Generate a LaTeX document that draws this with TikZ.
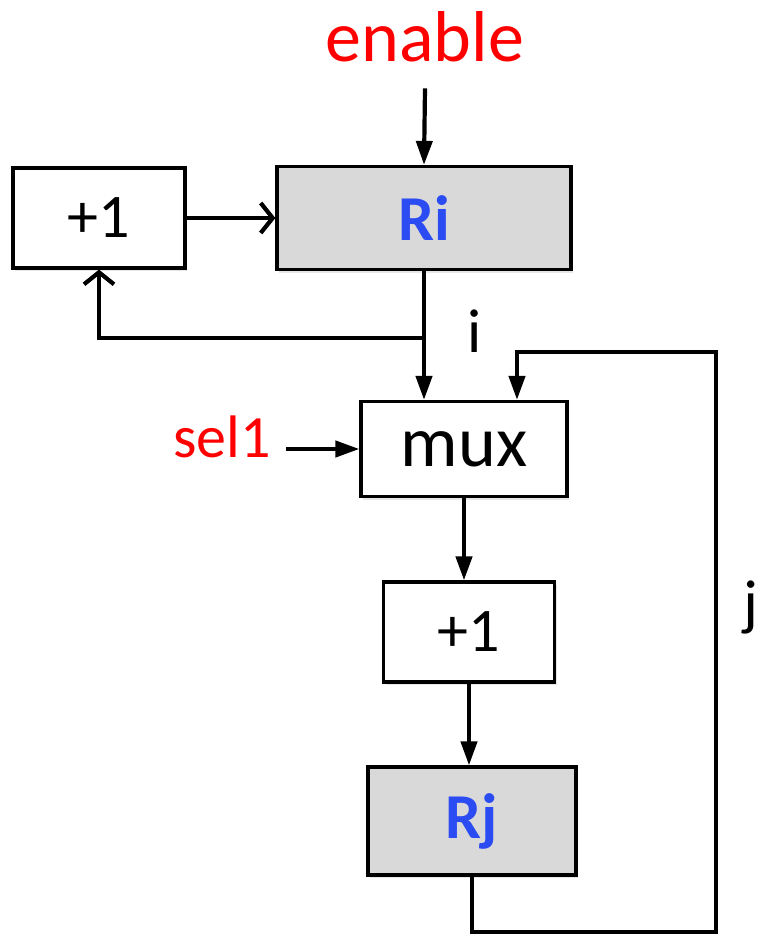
\documentclass[tikz,border=0pt]{standalone}
\usepackage{fontspec}
\setmainfont{Carlito}
\usetikzlibrary{arrows.meta, shadows}
\definecolor{regblue}{HTML}{2B4CF2}
\definecolor{regfill}{HTML}{D9D9D9}

\begin{document}
\begin{tikzpicture}[
    x=1pt, y=-1pt,
    box/.style={
        rectangle,
        draw=black,
        fill=white,
        line width=3.2pt,
        align=center,
        inner sep=0pt,
        drop shadow={opacity=0.2, shadow xshift=2pt, shadow yshift=-3pt},
        font=\fontsize{62}{62}\selectfont
    },
    reg/.style={
        box,
        fill=regfill,
        text=regblue,
        font=\fontsize{64}{64}\selectfont\bfseries
    },
    signal/.style={text=red, inner sep=0pt},
    tag/.style={inner sep=0pt, font=\fontsize{62}{62}\selectfont},
    arrow/.style={-{Triangle[length=24pt, width=16pt]}, line width=4.2pt},
    openarrow/.style={-{Straight Barb[length=12pt, width=30pt, line width=4.2pt]}, line width=4.2pt}
]
\useasboundingbox (0,0) rectangle (761,935);

\node[signal, font=\fontsize{72}{72}\selectfont] (enable) at (425,37) {enable};
\node[box, minimum width=172pt, minimum height=100pt] (inc1) at (99,218) {+1};
\node[reg, minimum width=294pt, minimum height=103pt] (ri) at (424,218) {Ri};
\node[box, minimum width=206pt, minimum height=95pt, font=\fontsize{72}{72}\selectfont] (mux) at (464,449) {mux};
\node[signal, font=\fontsize{60}{60}\selectfont] (sel1) at (222,437) {sel1};
\node[box, minimum width=171pt, minimum height=100pt] (inc2) at (469,632) {+1};
\node[reg, minimum width=208pt, minimum height=108pt] (rj) at (472,821) {Rj};
\node[tag] (ilabel) at (475,331) {i};
\node[tag] (jlabel) at (751,607) {j};

\coordinate (split) at (424,338);
\coordinate (jlow) at (716,932);
\coordinate (jtop) at (517,352);

\draw[arrow] ([yshift=-26pt]enable.south) -- (ri.north);
\draw[openarrow] (inc1.east) -- (ri.west);
\draw[arrow] (ri.south) -- (ri.south |- mux.north);
\draw[openarrow] (split) -| (inc1.south);
\draw[arrow] ([xshift=15pt]sel1.east |- mux.west) -- (mux.west);
\draw[arrow] (mux.south) -- (mux.south |- inc2.north);
\draw[arrow] (inc2.south) -- (inc2.south |- rj.north);
\draw[arrow] (rj.south) |- (jlow) |- (jtop) -- (jtop |- mux.north);

\end{tikzpicture}
\end{document}
